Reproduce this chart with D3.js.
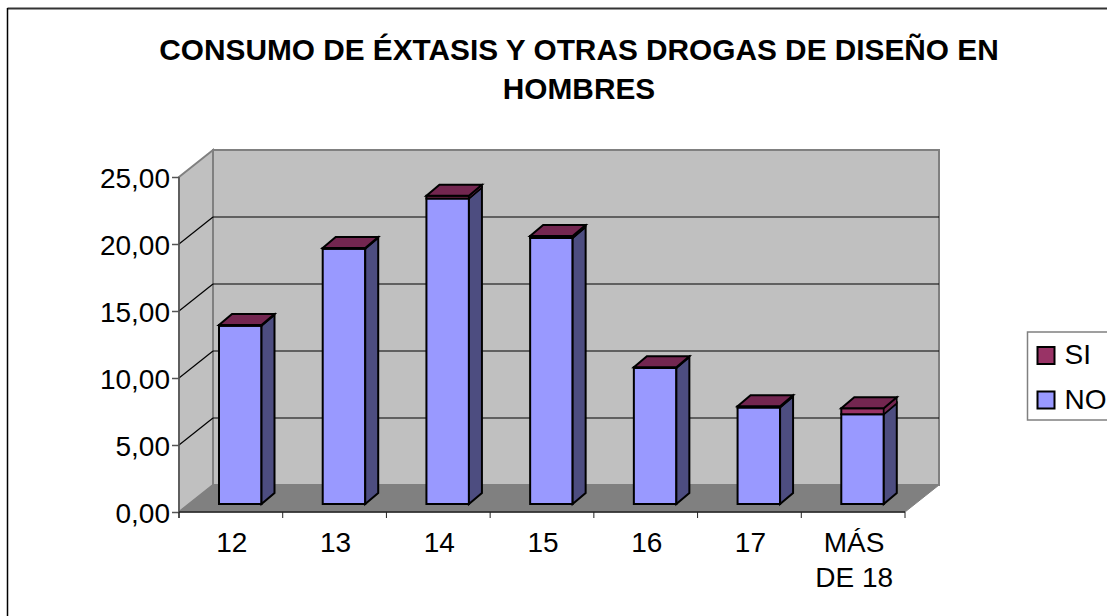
<!DOCTYPE html>
<html><head><meta charset="utf-8">
<script src="https://cdnjs.cloudflare.com/ajax/libs/d3/7.8.5/d3.min.js"></script>
<style>html,body{margin:0;padding:0;background:#fff}svg{display:block}text{font-family:"Liberation Sans",Arial,sans-serif;fill:#000}</style>
</head><body><svg id="c" width="1107" height="616"></svg>
<script>
const categories=["12","13","14","15","16","17","MÁS DE 18"];
const valuesNO=[13.3,19.05,22.8,19.85,10.15,7.2,6.7];
const valuesSI=[0.05,0.05,0.2,0.15,0.05,0.1,0.45];
const yTicks=[0,5,10,15,20,25];
const legendItems=["SI","NO"];
const titleLines=["CONSUMO DE ÉXTASIS Y OTRAS DROGAS DE DISEÑO EN","HOMBRES"];
const colNO="#9999ff",colNOs="#4d4d80",colSI="#993366",colSIt="#732650";
const svg=d3.select("#c");
const L=179,R=905,B=512,T=177,dx=34,dy=27;
const x=d3.scaleBand().domain(categories).range([L,R]).paddingInner(0).paddingOuter(0);
const y=d3.scaleLinear().domain([0,25]).range([B,T]);
const poly=(pts,fill,stroke,sw)=>svg.append("polygon").attr("points",pts.map(p=>p.join(",")).join(" ")).attr("fill",fill).attr("stroke",stroke||"none").attr("stroke-width",sw||0).attr("stroke-linejoin","miter");
const line=(a,b,c,sw)=>svg.append("line").attr("x1",a[0]).attr("y1",a[1]).attr("x2",b[0]).attr("y2",b[1]).attr("stroke",c).attr("stroke-width",sw);
// frame: only the top and left edges are visible
line([7.5,8.5],[1107,8.5],"#333",2);
line([7.5,8],[7.5,616],"#000",1.5);
// title
svg.append("text").selectAll("tspan").data(titleLines).join("tspan").attr("x",579).attr("y",(d,i)=>60+i*39).attr("text-anchor","middle").attr("font-size",29.8).attr("font-weight","bold").text(d=>d);
// walls
poly([[L+dx,y(25)-dy],[R+dx,y(25)-dy],[R+dx,B-dy],[L+dx,B-dy]],"#c0c0c0","#808080",2);
poly([[L,T],[L+dx,T-dy],[L+dx,B-dy],[L,B]],"#c0c0c0","#808080",2);
poly([[L,B],[L+dx,B-dy],[R+dx,B-dy],[R,B]],"#808080","#808080",1);
// gridlines
yTicks.slice(1,-1).forEach(t=>{line([L,y(t)],[L+dx,y(t)-dy],"#000",1.2);line([L+dx,y(t)-dy],[R+dx,y(t)-dy],"#000",1.2);});
// axes
const yAxis=d3.axisLeft(y).tickValues(yTicks).tickSize(7).tickPadding(2).tickFormat(d=>d3.format(".2f")(d).replace(".",","));
const ga=svg.append("g").attr("transform",`translate(${L},0)`).call(yAxis);
ga.selectAll("text").attr("font-size",28).attr("font-family","Liberation Sans").attr("dy","0.39em");
ga.select(".domain").remove();
ga.selectAll("line").attr("stroke","#555").attr("stroke-width",1.5);
line([L,T],[L,B+6],"#555",1.5);
const xAxis=d3.axisBottom(x).tickSize(0).tickFormat(()=>"");
const gx=svg.append("g").attr("transform",`translate(0,${B})`).call(xAxis);
gx.select(".domain").remove();
line([L,B],[R,B],"#222",1.5);
[...categories.map(c=>x(c)),R].forEach(v=>line([v,B],[v,B+6],"#222",1));
categories.forEach(c=>{
  const words=c.length>2?["MÁS","DE 18"]:[c];
  words.forEach((w,i)=>svg.append("text").attr("x",x(c)+x.bandwidth()/2+1).attr("y",552+i*35).attr("text-anchor","middle").attr("font-size",28).text(w));
});
// bars
const bw=42.5,bdx=13,bdy=11,base=y(0)-8,off=40;
const u=v=>y(v)-y(0);
categories.forEach((c,i)=>{
  const x0=x(c)+off,x1=x0+bw,yNO=base+u(valuesNO[i]),yS=yNO+u(valuesSI[i]);
  const st="#000";
  poly([[x0,base],[x1,base],[x1,yNO],[x0,yNO]],colNO,st,2);
  poly([[x1,base],[x1+bdx,base-bdy],[x1+bdx,yNO-bdy],[x1,yNO]],colNOs,st,2);
  poly([[x0,yNO],[x1,yNO],[x1,yS],[x0,yS]],colSI,st,2);
  poly([[x1,yNO],[x1+bdx,yNO-bdy],[x1+bdx,yS-bdy],[x1,yS]],colSIt,st,1.5);
  poly([[x0,yS],[x1,yS],[x1+bdx,yS-bdy],[x0+bdx,yS-bdy]],colSIt,st,2);
});
// legend
svg.append("rect").attr("x",1027.5).attr("y",332).attr("width",90).attr("height",88).attr("fill","#fff").attr("stroke","#808080").attr("stroke-width",1.5);
legendItems.forEach((t,i)=>{
  const yy=347+i*44.5;
  svg.append("rect").attr("x",1037.5).attr("y",yy).attr("width",17).attr("height",17).attr("fill",i?colNO:colSI).attr("stroke","#000").attr("stroke-width",2);
  svg.append("text").attr("x",1064.5).attr("y",yy+17).attr("font-size",28).text(t);
});
</script></body></html>
